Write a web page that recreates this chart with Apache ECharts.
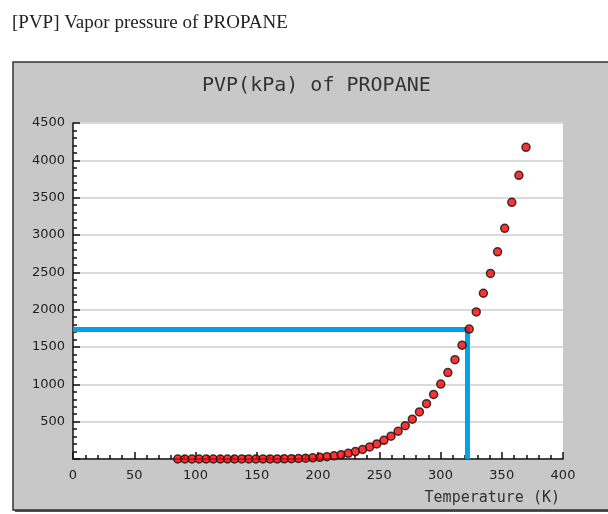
<!DOCTYPE html>
<html>
<head>
<meta charset="utf-8">
<script src="https://cdn.jsdelivr.net/npm/echarts@6/dist/echarts.min.js"></script>
<style>
  html, body { margin: 0; padding: 0; background: #fff; }
  #main { width: 608px; height: 514px; }
</style>
</head>
<body>
<div id="main"></div>
<script>
// temperature (K) of each point, 50 steps from triple point to critical point
var temps = [85.5, 91.3, 97.1, 102.9, 108.7, 114.5, 120.3, 126.1, 131.9, 137.7,
  143.5, 149.3, 155.1, 160.9, 166.7, 172.5, 178.3, 184.1, 189.9, 195.7,
  201.5, 207.3, 213.1, 218.9, 224.7, 230.5, 236.4, 242.2, 248.0, 253.8,
  259.6, 265.4, 271.2, 277.0, 282.8, 288.6, 294.4, 300.2, 306.0, 311.8,
  317.6, 323.4, 329.2, 335.0, 340.8, 346.6, 352.4, 358.2, 364.0, 369.8];
// vapor pressure (kPa)
var pvp = [0, 0, 0, 0, 0, 0, 0, 0.01, 0.02, 0.05,
  0.1, 0.2, 0.5, 0.9, 1.6, 2.7, 4.4, 6.9, 10.4, 15.3,
  22.0, 30.9, 42.5, 57.3, 75.9, 99.0, 127.2, 161.2, 201.9, 249.9,
  306.3, 371.6, 446.8, 533.0, 630.8, 741.0, 865.0, 1003.8, 1157.8, 1330.0,
  1525.0, 1740.0, 1970.0, 2220.0, 2485.0, 2775.0, 3090.0, 3438.0, 3800.0, 4175.0];
// highlighted reading (blue guide lines)
var markT = 322;
var markP = 1735;

var xTicks = { min: 0, max: 400, interval: 50 };
var yTicks = { min: 0, max: 4500, interval: 500 };

var chart = echarts.init(document.getElementById('main'));

var points = temps.map(function (t, i) { return [t, pvp[i]]; });

var option = {
  animation: false,
  backgroundColor: '#fff',
  graphic: [
    { type: 'rect', z: -10, shape: { x: 15, y: 64, width: 600, height: 448 }, style: { fill: '#555' } },
    { type: 'rect', z: -9, shape: { x: 13, y: 62, width: 600, height: 448 },
      style: { fill: '#c8c8c8', stroke: '#333', lineWidth: 1.5 } }
  ],
  title: [
    { text: '[PVP] Vapor pressure of PROPANE', left: 7, top: 9,
      textStyle: { fontFamily: 'Liberation Serif', fontSize: 19, fontWeight: 'normal', color: '#222' } },
    { text: 'PVP(kPa) of PROPANE', left: 197, top: 71,
      textStyle: { fontFamily: 'DejaVu Sans Mono', fontSize: 20, fontWeight: 'normal', color: '#333' } }
  ],
  grid: { left: 73, right: 45, top: 123, bottom: 55, show: true, backgroundColor: '#fff', borderWidth: 0 },
  xAxis: {
    type: 'value', min: xTicks.min, max: xTicks.max, interval: xTicks.interval,
    name: 'Temperature (K)', nameLocation: 'end', nameGap: -3,
    nameTextStyle: { fontFamily: 'DejaVu Sans Mono', fontSize: 15, color: '#333',
      align: 'right', verticalAlign: 'top', padding: [32, 0, 0, 0] },
    axisLine: { lineStyle: { color: '#111', width: 1.5 } },
    axisTick: { inside: true, length: 7, lineStyle: { color: '#111', width: 1.5 } },
    minorTick: { show: true, splitNumber: 5, length: 4, lineStyle: { color: '#111', width: 1.5 } },
    splitLine: { show: false },
    axisLabel: { margin: 10, fontFamily: 'DejaVu Sans', fontSize: 13, color: '#222' }
  },
  yAxis: {
    type: 'value', min: yTicks.min, max: yTicks.max, interval: yTicks.interval,
    axisLine: { show: true, lineStyle: { color: '#111', width: 1.5 } },
    axisTick: { show: true, inside: true, length: 7, lineStyle: { color: '#111', width: 1.5 } },
    minorTick: { show: true, splitNumber: 5, length: 4, lineStyle: { color: '#111', width: 1.5 } },
    splitLine: { show: true, lineStyle: { color: '#dadada', width: 2 } },
    axisLabel: { margin: 8, fontFamily: 'DejaVu Sans', fontSize: 13, color: '#222',
      formatter: function (v) { return v === 0 ? '' : v; } }
  },
  series: [
    {
      type: 'line', silent: true, showSymbol: false, z: 2,
      data: [[0, markP], [markT, markP], [markT, 0]],
      lineStyle: { color: '#00a2e8', width: 5, cap: 'butt', join: 'miter' }
    },
    {
      type: 'scatter', z: 3, symbolSize: 8,
      data: points,
      itemStyle: { color: '#ff0000', borderColor: '#111', borderWidth: 1.5 }
    }
  ]
};

chart.setOption(option);
</script>
</body>
</html>
